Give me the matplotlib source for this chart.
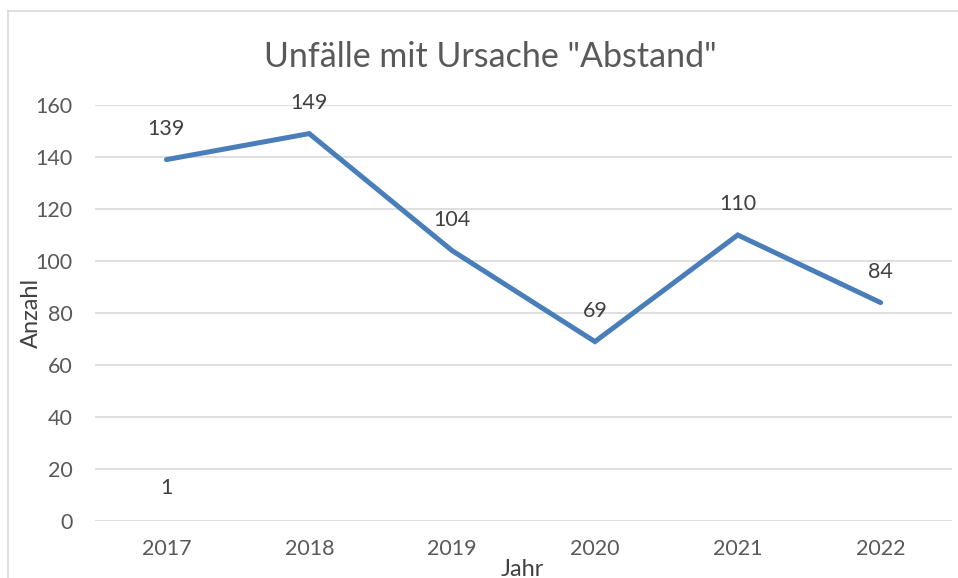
import matplotlib.pyplot as plt
from matplotlib.lines import Line2D

# -------------------------------
# DATA
# -------------------------------
years = ["2017", "2018", "2019", "2020", "2021", "2022"]
accidents = [139, 149, 104, 69, 110, 84]
# second series: a single value at 2017 (only its label is visible)
extra_years = ["2017"]
extra_values = [1]

title = 'Unfälle mit Ursache "Abstand"'
x_label = "Jahr"
y_label = "Anzahl"
y_ticks = [0, 20, 40, 60, 80, 100, 120, 140, 160]

# -------------------------------
# STYLE
# -------------------------------
plt.rcParams["font.family"] = ["Lato", "DejaVu Sans"]
line_color = "#4a7ebb"
grid_color = "#d9d9d9"
text_color = "#595959"
label_color = "#404040"

fig = plt.figure(figsize=(9.58, 5.78), dpi=100)
ax = fig.add_axes([95 / 958, 57 / 578, 857 / 958, 416 / 578])

x = list(range(len(years)))
ax.plot(x, accidents, color=line_color, lw=3.6, solid_joinstyle="miter",
        solid_capstyle="round", zorder=3)

# data labels above the points
for xi, v in zip(x, accidents):
    ax.annotate(str(v), (xi, v), xytext=(0, 22), textcoords="offset points",
                ha="center", va="center", fontsize=15.5, color=label_color)
for yr, v in zip(extra_years, extra_values):
    ax.annotate(str(v), (years.index(yr), v), xytext=(0, 22),
                textcoords="offset points", ha="center", va="center",
                fontsize=15.5, color=label_color)

ax.set_xlim(-0.5, len(years) - 0.5)
ax.set_ylim(0, 160)
ax.set_xticks(x)
ax.set_xticklabels(years)
ax.set_yticks(y_ticks)
ax.tick_params(axis="both", length=0, labelsize=15.5, colors=text_color)
ax.tick_params(axis="y", pad=16)
ax.tick_params(axis="x", pad=13)

ax.grid(axis="y", color=grid_color, lw=1.2)
ax.set_axisbelow(True)
for s in ax.spines.values():
    s.set_visible(False)

fig.text(490 / 958, 1 - 57 / 578, title, ha="center", va="center",
         fontsize=24.5, color=text_color)
fig.text(31 / 958, 1 - 313 / 578, y_label, rotation=90, ha="center",
         va="center", fontsize=17, color=label_color)
fig.text(522 / 958, 1 - 569 / 578, x_label, ha="center", va="center",
         fontsize=17, color=label_color)

# chart border (top and left edges visible)
fig.add_artist(Line2D([8 / 958, 1.0], [1 - 11 / 578] * 2,
                      transform=fig.transFigure, color="#d9d9d9", lw=1.2))
fig.add_artist(Line2D([8 / 958] * 2, [0.0, 1 - 11 / 578],
                      transform=fig.transFigure, color="#d9d9d9", lw=1.2))

fig.savefig("out.png", dpi=100, facecolor="white")
